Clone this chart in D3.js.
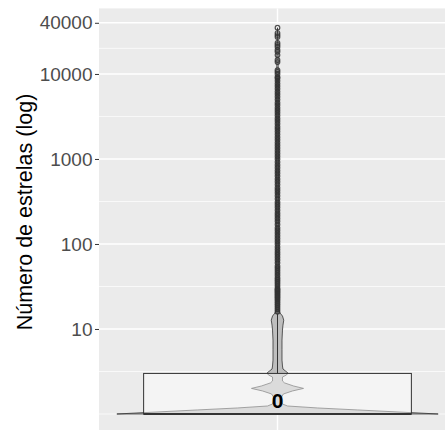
<!DOCTYPE html>
<html>
<head>
<meta charset="utf-8">
<script src="https://cdn.jsdelivr.net/npm/d3@7"></script>
<style>
body { margin: 0; background: #fff; }
text { font-family: "Liberation Sans", Arial, sans-serif; }
</style>
</head>
<body>
<div class="canvas"></div>
<script>
const dims = { width: 445, height: 430 };
const panel = { left: 99, top: 8.4, width: 357, height: 424.9 };

// dados
const categorias = ['repositórios'];
const yTicks = [10, 100, 1000, 10000, 40000];
const quartis = [1, 1, 3];          // q1, mediana, q3 (estrelas + 1)
const bigode = [3, 15];
const medianaRotulo = ['0'];

// perfil do violino (valor no eixo, densidade relativa)
const violinValores = [1, 1.056, 1.115, 1.177, 1.242, 1.311, 1.42, 1.585, 1.72, 1.865, 2.0, 2.135,
    2.32, 2.445, 2.58, 2.72, 2.875, 3.035, 3.2, 3.38, 3.67, 4.3, 5.7, 7.4, 9.7, 11.1, 12.7, 14.2,
    15.4, 16.7, 85, 1270, 19000, 35000];
const violinDensidade = [1, 0.75, 0.5, 0.25, 0.062, 0.031, 0.025, 0.025, 0.037, 0.093, 0.162, 0.1,
    0.044, 0.031, 0.031, 0.031, 0.056, 0.065, 0.05, 0.034, 0.031, 0.028, 0.028, 0.028, 0.031, 0.034,
    0.039, 0.031, 0.016, 0.009, 0.007, 0.006, 0.004, 0];

const outliers = [16, 17, 18, 19, 20, 21, 22, 23, 24, 25, 26, 27, 28, 29, 30, 32, 34, 36, 38, 40,
    43, 46, 49, 52, 55, 60, 65, 70, 75, 80, 86, 92, 100, 108, 116, 125, 135, 145, 155, 170, 185,
    200, 215, 230, 250, 270, 290, 310, 340, 370, 400, 430, 460, 500, 540, 580, 630, 680, 730, 790,
    850, 920, 1000, 1080, 1160, 1250, 1350, 1450, 1560, 1680, 1800, 1950, 2100, 2250, 2400, 2600,
    2800, 3000, 3250, 3500, 3750, 4000, 4300, 4600, 5000, 5400, 5800, 6200, 6700, 7200, 7700,
    8300, 8900, 9220, 10000, 10600, 11100, 13800, 14600, 16700, 18200, 19200, 20800, 21900,
    23200, 27300, 28700, 30300, 35000];

const svg = d3.select('.canvas')
    .append('svg')
    .attr('width', dims.width)
    .attr('height', dims.height)

// escalas
const logMin = Math.log10(d3.min(violinValores));
const logMax = Math.log10(d3.max(outliers));
const pad = (logMax - logMin) * 0.05;

const y = d3.scaleLog()
    .domain([10 ** (logMin - pad), 10 ** (logMax + pad)])
    .range([panel.top + panel.height, panel.top])

const x = d3.scaleBand()
    .domain(categorias)
    .range([panel.left, panel.left + panel.width])

const cx = x(categorias[0]) + x.bandwidth() / 2;
const w = d3.scaleLinear().domain([0, 1]).range([0, x.bandwidth() * 0.45]);

// painel
svg.append('rect')
    .attr('x', panel.left)
    .attr('y', panel.top)
    .attr('width', panel.width)
    .attr('height', panel.height)
    .attr('fill', '#EBEBEB')

// grade secundaria
const logs = yTicks.map(Math.log10);
const step = logs[1] - logs[0];
const ext = [logs[0] - step, ...logs];
const minor = ext.slice(1).map((l, i) => (l + ext[i]) / 2).concat([ext[0]]);

svg.append('g').selectAll('line')
    .data(minor.map(l => 10 ** l))
    .enter().append('line')
        .attr('x1', panel.left).attr('x2', panel.left + panel.width)
        .attr('y1', d => y(d)).attr('y2', d => y(d))
        .attr('stroke', '#fff')
        .attr('stroke-width', 0.7)

svg.append('g').selectAll('line')
    .data(yTicks)
    .enter().append('line')
        .attr('x1', panel.left).attr('x2', panel.left + panel.width)
        .attr('y1', d => y(d)).attr('y2', d => y(d))
        .attr('stroke', '#fff')
        .attr('stroke-width', 1.4)

svg.append('line')
    .attr('x1', cx).attr('x2', cx)
    .attr('y1', panel.top).attr('y2', panel.top + panel.height)
    .attr('stroke', '#fff')
    .attr('stroke-width', 1.4)

// violino
const violinData = violinValores.map((v, i) => ({ v: v, d: violinDensidade[i] }));

const area = d3.area()
    .y(d => y(d.v))
    .x0(d => cx - w(d.d))
    .x1(d => cx + w(d.d))

svg.append('path')
    .datum(violinData)
    .attr('d', area)
    .attr('fill', '#BEBEBE')
    .attr('stroke', '#333')
    .attr('stroke-width', 0.8)
    .attr('stroke-linejoin', 'round')

// boxplot
const boxW = x.bandwidth() * 0.75;

svg.append('line')
    .attr('x1', cx).attr('x2', cx)
    .attr('y1', y(bigode[0])).attr('y2', y(bigode[1]))
    .attr('stroke', '#333')
    .attr('stroke-width', 1)

svg.append('rect')
    .attr('x', cx - boxW / 2)
    .attr('y', y(quartis[2]))
    .attr('width', boxW)
    .attr('height', y(quartis[0]) - y(quartis[2]))
    .attr('fill', '#fff')
    .attr('fill-opacity', 0.45)
    .attr('stroke', '#333')
    .attr('stroke-width', 1)

svg.append('line')
    .attr('x1', cx - boxW / 2).attr('x2', cx + boxW / 2)
    .attr('y1', y(quartis[1])).attr('y2', y(quartis[1]))
    .attr('stroke', '#333')
    .attr('stroke-width', 2.2)

svg.append('g').selectAll('circle')
    .data(outliers)
    .enter().append('circle')
        .attr('cx', cx)
        .attr('cy', d => y(d))
        .attr('r', 2.3)
        .attr('fill', d => d > 9300 ? 'none' : '#333')
        .attr('fill-opacity', 0.6)
        .attr('stroke', '#333')
        .attr('stroke-opacity', 0.85)
        .attr('stroke-width', 1.2)

svg.append('text')
    .data(medianaRotulo)
    .attr('x', cx)
    .attr('y', y(quartis[1]) - 6)
    .attr('text-anchor', 'middle')
    .attr('font-weight', 'bold')
    .attr('font-size', 21)
    .attr('fill', '#000')
    .text(d => d)

// eixo y
const yAxis = d3.axisLeft(y)
    .tickValues(yTicks)
    .tickFormat(d3.format('d'))
    .tickSize(4)
    .tickPadding(2.5)

const gy = svg.append('g')
    .attr('transform', `translate(${panel.left}, 0)`)
    .call(yAxis)

gy.select('.domain').remove();
gy.selectAll('.tick line').attr('stroke', '#333').attr('stroke-width', 1);
gy.selectAll('.tick text')
    .attr('fill', '#4D4D4D')
    .attr('font-size', 19)
    .attr('font-family', '"Liberation Sans", Arial, sans-serif')

svg.append('text')
    .attr('transform', `translate(31.5, 212) rotate(-90)`)
    .attr('text-anchor', 'middle')
    .attr('font-size', 21.5)
    .attr('fill', '#000')
    .text('Número de estrelas (log)')
</script>
</body>
</html>
